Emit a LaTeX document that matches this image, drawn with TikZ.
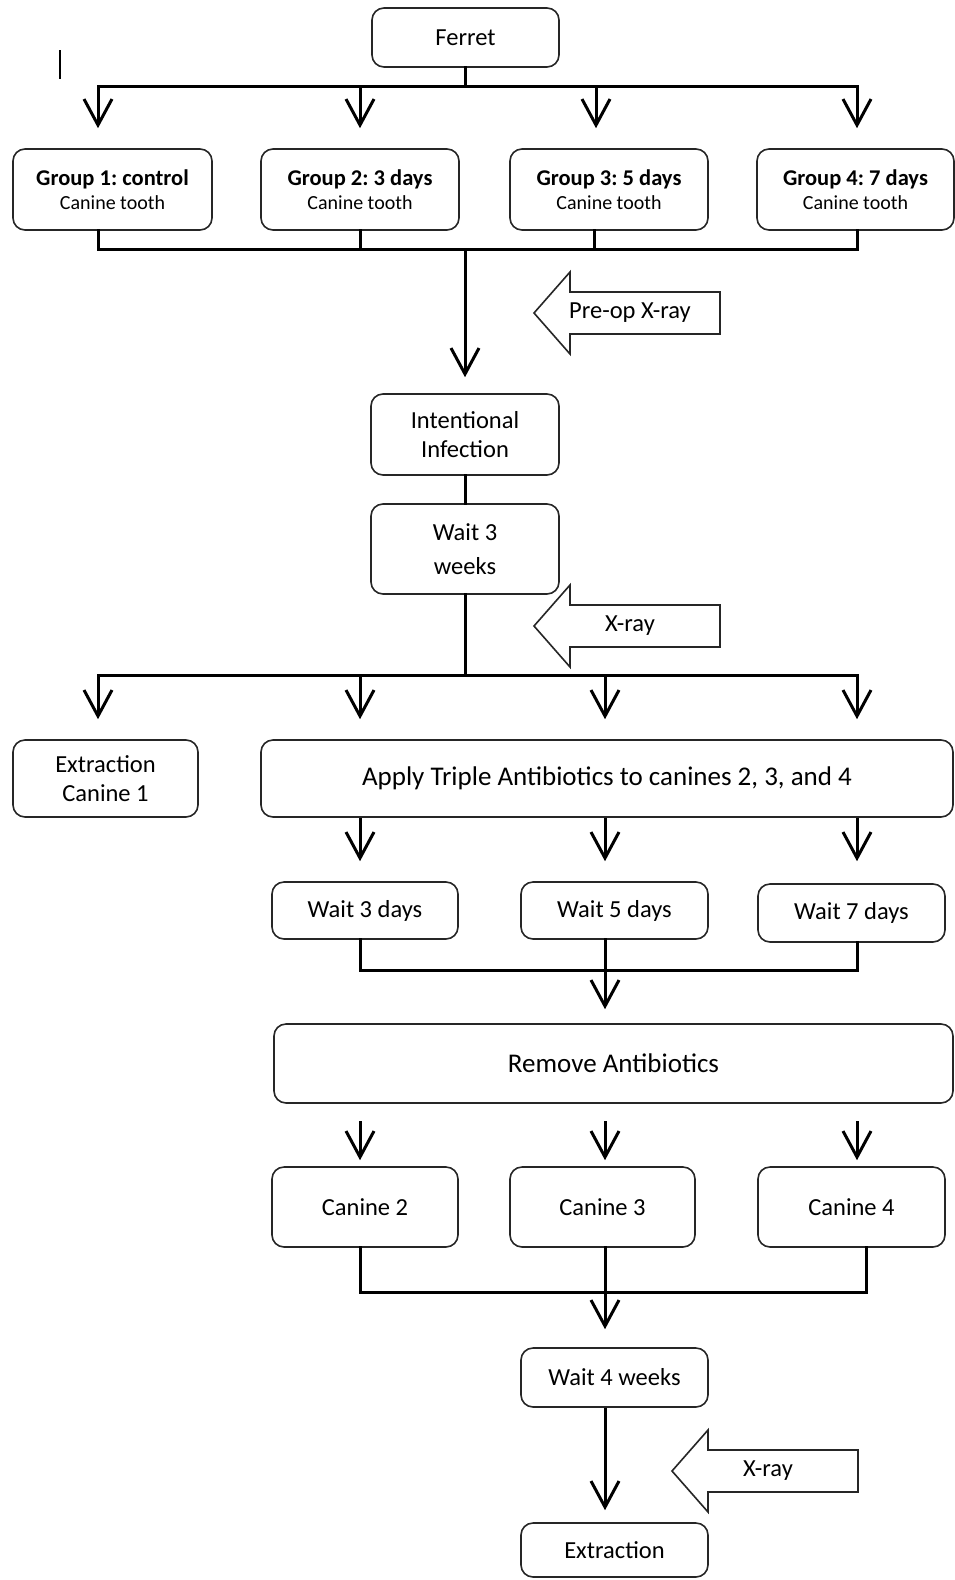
\documentclass[tikz,border=0pt]{standalone}
\usepackage{fontspec}
\setmainfont{Carlito}
\frenchspacing
\usetikzlibrary{arrows.meta,positioning,calc}
\tikzset{
  >={Straight Barb[length=26pt,width=28pt]},
  % rutor
  bx/.style={draw=black!85,fill=white,line width=1.6pt,rounded corners=12pt,
             inner sep=2pt,align=center,font=\fontsize{24.5}{29}\selectfont},
  bxw/.style={bx,font=\fontsize{27}{32}\selectfont},
  grp/.style={bx,font=\fontsize{22.5}{27}\selectfont\bfseries},
  % linjer
  ln/.style={draw=black,line width=3pt,line cap=rect},
  arr/.style={->,draw=black,line width=3pt},
  blk/.style={draw=black!85,fill=white,line width=1.6pt,line join=miter},
  pics/xray/.style={code={
    \draw[blk] (0,0) -- (36,-41) -- (36,-21) -- (186,-21) -- (186,21)
      -- (36,21) -- (36,41) -- cycle;
    \node[font=\fontsize{24.5}{29}\selectfont] (-txt) at (96,0) {#1};
  }},
}
\begin{document}
\begin{tikzpicture}[x=1pt,y=-1pt]
\useasboundingbox (0,0) rectangle (955,1580);
  \draw[line width=1.2pt] (60,50) -- (60,79);
  % topp
  \node[bx,minimum width=187pt,minimum height=59pt] (ferret) at (465.5,37.5) {Ferret};
  \node[grp,minimum width=199pt,minimum height=81pt] (g1) at (112.5,189.5)
    {Group 1: control\\[-3pt]{\fontsize{20}{24}\selectfont\mdseries Canine tooth}};
  \node[grp,minimum width=198pt,minimum height=81pt] (g2) at (360,189.5)
    {Group 2: 3 days\\[-3pt]{\fontsize{20}{24}\selectfont\mdseries Canine tooth}};
  \node[grp,minimum width=198pt,minimum height=81pt] (g3) at (609,189.5)
    {Group 3: 5 days\\[-3pt]{\fontsize{20}{24}\selectfont\mdseries Canine tooth}};
  \node[grp,minimum width=197pt,minimum height=81pt] (g4) at (855.5,189.5)
    {Group 4: 7 days\\[-3pt]{\fontsize{20}{24}\selectfont\mdseries Canine tooth}};
  \coordinate (ta) at (98,86);  \coordinate (tb) at (360,86);
  \coordinate (tc) at (596,86); \coordinate (td) at (857,86);
  \draw[ln] (ferret.south) -- (ferret.south |- ta);
  \draw[ln] (ta) -- (td);
  \draw[arr,shorten >=20pt] (ta) -- (g1.north -| ta);
  \draw[arr,shorten >=20pt] (tb) -- (g2.north -| tb);
  \draw[arr,shorten >=20pt] (tc) -- (g3.north -| tc);
  \draw[arr,shorten >=20pt] (td) -- (g4.north -| td);
  % infektion
  \node[bx,minimum width=188pt,minimum height=81pt] (infect) at (465,434.5)
    {Intentional\\Infection};
  \node[bx,minimum width=188pt,minimum height=90pt] (wait3w) at (465,549)
    {Wait 3\\[5pt]weeks};
  \coordinate (ba) at (98,249);  \coordinate (bb) at (360,249);
  \coordinate (bc) at (594,249); \coordinate (bd) at (857,249);
  \coordinate (bm) at (465,249);
  \draw[ln] (g1.south -| ba) -- (ba) -- (bd) -- (g4.south -| bd);
  \draw[ln] (g2.south -| bb) -- (bb);
  \draw[ln] (g3.south -| bc) -- (bc);
  \draw[arr,shorten >=16pt] (bm) -- (infect);
  \draw[ln] (infect) -- (wait3w);
  \pic (preop) at (534,313) {xray=Pre-op X-ray};
  \pic (xr1) at (534,626) {xray=X-ray};
  % behandling
  \node[bx,minimum width=185pt,minimum height=77pt] (ext1) at (105.5,778.5)
    {Extraction\\Canine 1};
  \node[bxw,minimum width=692pt,minimum height=77pt] (apply) at (607,778.5)
    {Apply Triple Antibiotics to canines 2, 3, and 4};
  \coordinate (ma) at (98,675);  \coordinate (mb) at (360,675);
  \coordinate (mc) at (605,675); \coordinate (md) at (857,675);
  \coordinate (mm) at (465,675);
  \draw[ln] (wait3w.south) -- (mm);
  \draw[ln] (ma) -- (md);
  \draw[arr,shorten >=20pt] (ma) -- (ext1.north -| ma);
  \draw[arr,shorten >=20pt] (mb) -- (apply.north -| mb);
  \draw[arr,shorten >=20pt] (mc) -- (apply.north -| mc);
  \draw[arr,shorten >=20pt] (md) -- (apply.north -| md);
  \node[bx,minimum width=186pt,minimum height=57pt] (w3d) at (365,910.5) {Wait 3 days};
  \node[bx,minimum width=187pt,minimum height=57pt] (w5d) at (614.5,910.5) {Wait 5 days};
  \node[bx,minimum width=187pt,minimum height=58pt] (w7d) at (851.5,913) {Wait 7 days};
  \draw[arr,shorten >=20pt] (apply.south -| mb) -- (w3d.north -| mb);
  \draw[arr,shorten >=20pt] (apply.south -| mc) -- (w5d.north -| mc);
  \draw[arr,shorten >=22pt] (apply.south -| md) -- (w7d.north -| md);
  \coordinate (la) at (360,970); \coordinate (lc) at (605,970);
  \coordinate (ld) at (857,970);
  \draw[ln] (w3d.south -| la) -- (la) -- (ld) -- (w7d.south -| ld);
  \draw[ln] (w5d.south -| lc) -- (lc);
  \node[bxw,minimum width=679pt,minimum height=79pt] (remove) at (613.5,1063.5)
    {Remove Antibiotics};
  \draw[arr,shorten >=14pt] (lc) -- (remove.north -| lc);
  % hundtänder
  \node[bx,minimum width=186pt,minimum height=80pt] (c2) at (365,1207) {Canine 2};
  \node[bx,minimum width=185pt,minimum height=80pt] (c3) at (602.5,1207) {Canine 3};
  \node[bx,minimum width=187pt,minimum height=80pt] (c4) at (851.5,1207) {Canine 4};
  \coordinate (ra) at (360,1121); \coordinate (rc) at (605,1121);
  \coordinate (rd) at (857,1121);
  \draw[arr,shorten >=6pt] (ra) -- (c2.north -| ra);
  \draw[arr,shorten >=6pt] (rc) -- (c3.north -| rc);
  \draw[arr,shorten >=6pt] (rd) -- (c4.north -| rd);
  \coordinate (ka) at (360,1292); \coordinate (kc) at (605,1292);
  \coordinate (kd) at (866,1292);
  \draw[ln] (c2.south -| ka) -- (ka) -- (kd) -- (c4.south -| kd);
  \draw[ln] (c3.south -| kc) -- (kc);
  % slut
  \node[bx,minimum width=187pt,minimum height=59pt] (w4w) at (614.5,1377.5) {Wait 4 weeks};
  \node[bx,minimum width=187pt,minimum height=54pt] (extr) at (614.5,1550) {Extraction};
  \draw[arr,shorten >=18pt] (kc) -- (w4w.north -| kc);
  \draw[arr,shorten >=12pt] (w4w.south -| kc) -- (extr.north -| kc);
  \pic (xr2) at (672,1471) {xray=X-ray};
\end{tikzpicture}
\end{document}
